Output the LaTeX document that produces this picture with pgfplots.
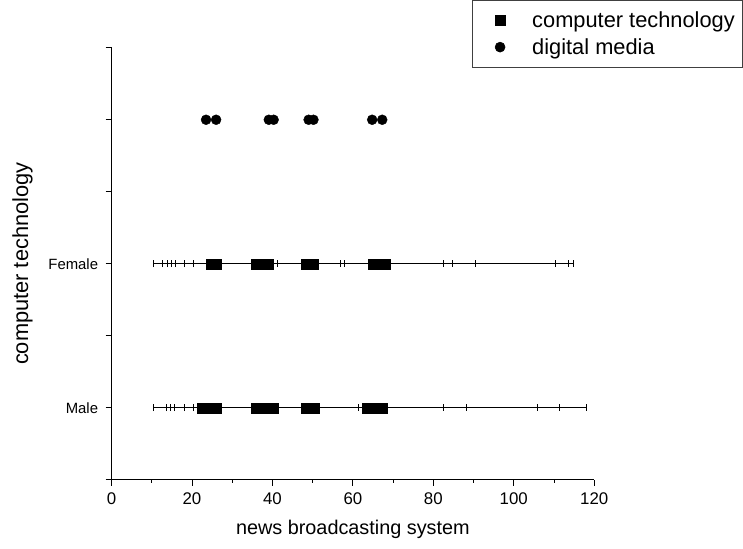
\documentclass[border=0pt]{standalone}
\usepackage{fontspec}
\setmainfont{Liberation Sans}
\usepackage{pgfplots}
\pgfplotsset{compat=1.18}
\usepackage{pgfplotstable}

\pgfplotstableread{
x y em ep
22.5 1 12.2 38.9
24.0 1 10.4 58.5
26.0 1 11.3 62.1
36.0 1 20.3 69.9
38.0 1 20.0 73.4
40.3 1 20.1 77.8
48.3 1 0 0
50.5 1 0 0
63.6 1 0 0
65.5 1 0 0
67.3 1 0 0
}\maletable

\pgfplotstableread{
x y em ep
24.7 2 14.4 16.6
26.0 2 13.4 30.9
36.0 2 22.2 21.9
37.5 2 22.7 45.0
39.0 2 23.2 45.7
48.5 2 30.4 41.8
50.2 2 30.0 60.1
65.0 2 0 48.6
66.5 2 0 48.2
68.0 2 0 0
}\femaletable

\pgfplotstableread{
x y
23.5 3
26.0 3
39.1 3
40.3 3
49.0 3
50.2 3
64.8 3
67.3 3
}\mediatable

\pgfplotsset{
  mylegimg/.style={legend image code/.code={\path (0bp,0bp) (52bp,0bp);\draw[mark repeat=2,mark phase=2,##1] plot coordinates {(0bp,0bp)(24bp,0bp)(52bp,0bp)};}},
}

\begin{document}
\begin{tikzpicture}
\begin{axis}[
  scale only axis,
  width=485bp, height=434bp,
  xmin=0, xmax=120, ymin=0.5, ymax=3.5,
  axis x line*=bottom, axis y line*=left,
  x axis line style={-, line width=0.9bp},
  y axis line style={-, line width=0.9bp},
  xtick={0,20,...,120},
  minor xtick={10,30,...,110},
  ytick={0.5,1,1.5,2,2.5,3,3.5},
  yticklabels={,Male,,Female,,,},
  tick align=outside,
  major tick length=6bp, minor tick length=3bp,
  tick style={black, line width=0.9bp},
  /pgf/number format/assume math mode=true,
  xticklabel style={font=\fontsize{17}{20}\selectfont, yshift=-4bp},
  yticklabel style={font=\fontsize{15}{18}\selectfont, xshift=-4bp},
  xlabel={news broadcasting system},
  ylabel={computer technology},
  xlabel shift=8bp,
  ylabel shift=9bp,
  xlabel style={text depth=11bp, font=\fontsize{20}{24}\selectfont},
  ylabel style={text height=25bp, font=\fontsize{22}{26}\selectfont},
  legend style={
    at={(axis description cs:0.746,1.1106)}, anchor=north west,
    draw=black!75, line width=0.6bp,
    inner xsep=4bp, inner ysep=10bp,
    nodes={inner xsep=4bp, inner ysep=1.5bp},
    row sep=6.5bp,
    font=\fontsize{22}{26}\selectfont,
  },
  legend cell align=left,
]
\addplot[only marks, mylegimg, mark=square*, mark size=5bp, black,
  error bars/.cd, x dir=both, x explicit,
  error bar style={line width=1bp, black, mark size=3.5bp}]
  table[x=x, y=y, x error plus=ep, x error minus=em] {\maletable};
\addlegendentry{computer technology}
\addplot[only marks, mark=square*, mark size=5bp, black, forget plot,
  error bars/.cd, x dir=both, x explicit,
  error bar style={line width=1bp, black, mark size=3.5bp}]
  table[x=x, y=y, x error plus=ep, x error minus=em] {\femaletable};
\addplot[only marks, mylegimg, mark=*, mark size=5bp, black]
  table[x=x, y=y] {\mediatable};
\addlegendentry{digital media}
\end{axis}
\end{tikzpicture}
\end{document}
